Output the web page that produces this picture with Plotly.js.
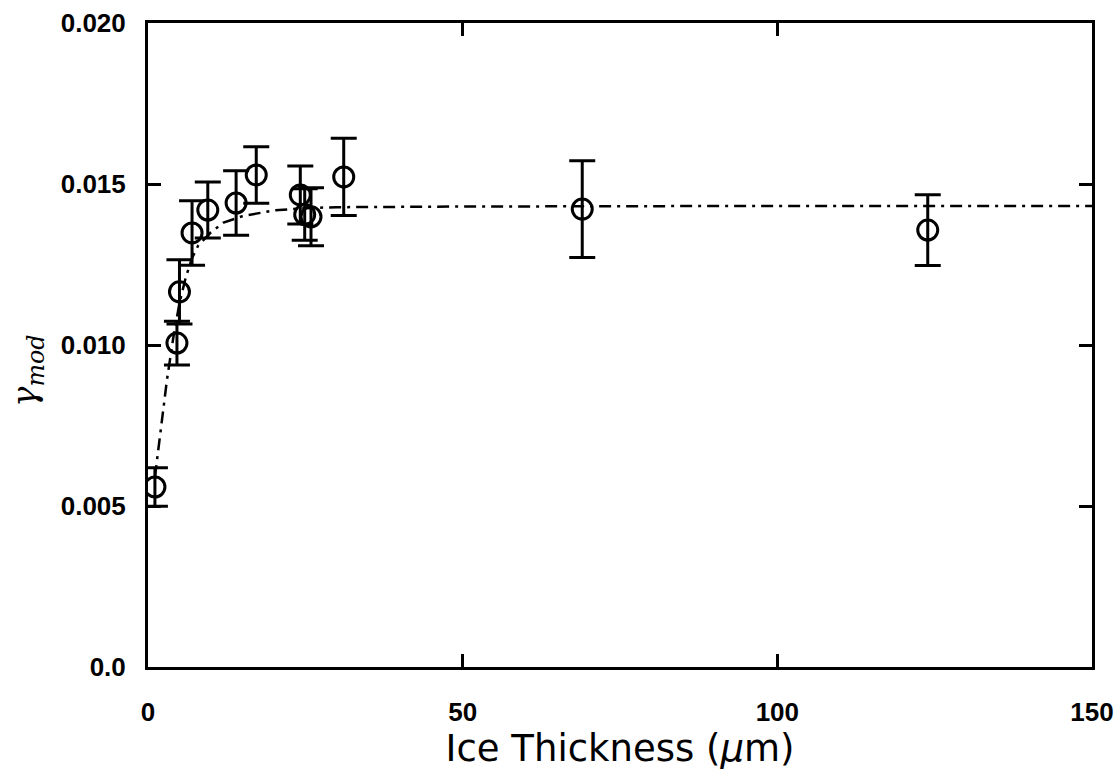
<!DOCTYPE html>
<html>
<head>
<meta charset="utf-8">
<script src="https://cdn.plot.ly/plotly-3.0.1.min.js"></script>
<style>html,body{margin:0;padding:0;background:#fff;}#chart{width:1118px;height:778px;}</style>
</head>
<body>
<div id="chart"></div>
<script>
// Measured data points
const thickness = [1.1, 4.6, 5.0, 7.0, 9.5, 14.0, 17.2, 24.2, 24.9, 25.9, 31.1, 69.0, 123.9];
const gammaMod  = [0.00559, 0.01006, 0.01165, 0.01348, 0.01419, 0.01441, 0.01528, 0.01466, 0.01405, 0.01398, 0.01522, 0.01422, 0.01357];
const gammaErr  = [0.0006, 0.00068, 0.001, 0.001, 0.00087, 0.001, 0.00088, 0.0009, 0.0008, 0.0009, 0.0012, 0.0015, 0.0011];

// Fit curve
const fitX = [1.1, 2, 3, 4, 5, 6, 7, 8, 10, 12, 15, 20, 25, 30, 50, 100, 150];
const fitY = [0.0059, 0.0073, 0.0089, 0.0102, 0.0113, 0.0121, 0.0127, 0.0131, 0.0135, 0.0138, 0.0140, 0.01418, 0.01425, 0.01428, 0.0143, 0.01432, 0.01432];

const xTicks = [0, 50, 100, 150];
const yTicks = [0, 0.005, 0.010, 0.015, 0.020];
const yTickText = ['0.0', '0.005', '0.010', '0.015', '0.020'];

const traces = [
  {
    x: fitX, y: fitY, mode: 'lines', type: 'scatter',
    line: {color: '#000', width: 2.5, dash: '12px,6px,3px,6px'},
    hoverinfo: 'skip'
  },
  {
    x: thickness, y: gammaMod, mode: 'markers', type: 'scatter',
    marker: {symbol: 'circle-open', size: 20, color: '#000', line: {width: 3, color: '#000'}},
    error_y: {type: 'data', array: gammaErr, visible: true, color: '#000', thickness: 3, width: 13}
  }
];

const layout = {
  width: 1118, height: 778,
  margin: {l: 148, r: 26, t: 23, b: 111},
  paper_bgcolor: '#fff', plot_bgcolor: '#fff',
  showlegend: false,
  font: {family: 'Liberation Sans, Arial, sans-serif', color: '#000'},
  xaxis: {
    range: [0, 150], tickvals: xTicks, ticktext: xTicks.map(String),
    ticks: 'inside', ticklen: 13, tickwidth: 3, tickcolor: '#000',
    showline: true, linewidth: 3, linecolor: '#000', mirror: 'allticks',
    showgrid: false, zeroline: false,
    tickfont: {family: 'Liberation Sans, Arial, sans-serif', size: 26, weight: 'bold'},
    ticklabelstandoff: 20,
    title: {text: 'Ice Thickness (<i>μ</i>m)', font: {family: 'DejaVu Sans, sans-serif', size: 37}, standoff: 8}
  },
  yaxis: {
    range: [0, 0.020], tickvals: yTicks, ticktext: yTickText,
    ticks: 'inside', ticklen: 13, tickwidth: 3, tickcolor: '#000',
    showline: true, linewidth: 3, linecolor: '#000', mirror: 'allticks',
    showgrid: false, zeroline: false,
    tickfont: {family: 'Liberation Sans, Arial, sans-serif', size: 26, weight: 'bold'},
    ticklabelstandoff: 14
  },
  annotations: [{
    text: '<i>γ</i><sub><i>mod</i></sub>',
    xref: 'paper', yref: 'paper', x: -0.128, y: 0.46,
    xanchor: 'center', yanchor: 'middle', textangle: -90, showarrow: false,
    font: {family: 'DejaVu Serif, serif', size: 34, color: '#000'}
  }]
};

Plotly.newPlot('chart', traces, layout, {displayModeBar: false, staticPlot: true});
</script>
</body>
</html>
